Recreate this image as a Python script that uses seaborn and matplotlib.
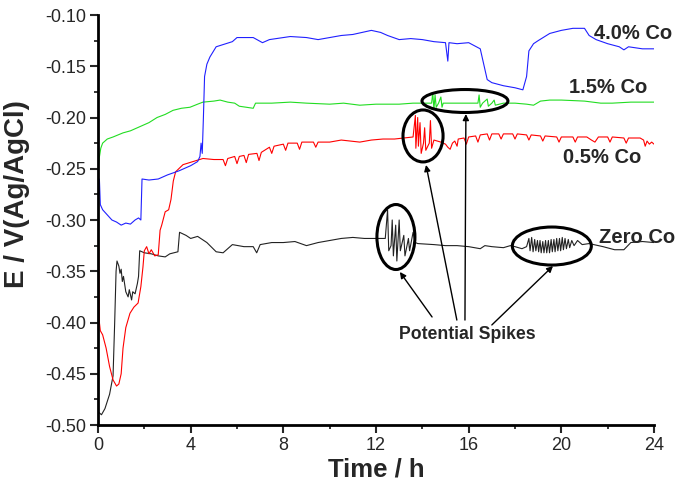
import pandas as pd
import matplotlib.pyplot as plt
import seaborn as sns
import matplotlib.ticker as plticker
from matplotlib.patches import Ellipse

# open circuit potential vs time
zero_t = [0.05, 0.15, 0.3, 0.5, 0.65, 0.72, 0.78, 0.82, 0.9, 0.95, 1.0, 1.05, 1.1, 1.2, 1.3, 1.35, 1.45, 1.5,
          1.6, 1.7, 1.75, 1.8, 2.0, 2.3, 2.6, 2.9, 3.1, 3.45, 3.52, 3.8, 4.0, 4.3, 4.7, 5.1, 5.4, 5.8, 6.3, 6.7,
          6.85, 7.0, 7.5, 8.0, 8.5, 9.0, 9.5, 10.0, 10.5, 11.0, 11.5, 12.0, 12.4,
          12.5, 12.55, 12.65, 12.7, 12.75, 12.85, 12.9, 13.0, 13.05, 13.2, 13.25, 13.4, 13.45, 13.6, 13.7,
          13.8, 14.5, 15.0, 15.5, 16.0, 16.5, 16.7, 17.0, 17.5, 17.8, 18.0, 18.3, 18.5,
          18.6, 18.65, 18.72, 18.78, 18.85, 18.9, 18.97, 19.02, 19.08, 19.13, 19.2, 19.25, 19.32, 19.37,
          19.44, 19.49, 19.56, 19.61, 19.68, 19.73, 19.8, 19.85, 19.92, 19.97, 20.04, 20.09, 20.16, 20.22,
          20.3, 20.36, 20.45, 20.55, 20.7, 20.9, 21.2, 21.8, 22.3, 22.7, 23.0, 23.5, 24.0]
zero_e = [-0.488, -0.490, -0.484, -0.470, -0.452, -0.400, -0.350, -0.340, -0.345, -0.352, -0.348, -0.360,
          -0.355, -0.370, -0.375, -0.368, -0.378, -0.370, -0.372, -0.362, -0.355, -0.330, -0.332, -0.333,
          -0.335, -0.336, -0.333, -0.331, -0.312, -0.315, -0.318, -0.316, -0.322, -0.331, -0.332, -0.324,
          -0.326, -0.326, -0.332, -0.324, -0.322, -0.322, -0.321, -0.325, -0.322, -0.320, -0.318, -0.317,
          -0.318, -0.318, -0.318,
          -0.290, -0.330, -0.325, -0.300, -0.335, -0.305, -0.340, -0.300, -0.330, -0.315, -0.335, -0.318,
          -0.330, -0.312, -0.322,
          -0.323, -0.324, -0.325, -0.325, -0.326, -0.328, -0.325, -0.326, -0.327, -0.325, -0.326, -0.328, -0.326,
          -0.318, -0.330, -0.317, -0.331, -0.319, -0.330, -0.320, -0.331, -0.320, -0.332, -0.321, -0.332,
          -0.320, -0.332, -0.320, -0.332, -0.319, -0.331, -0.319, -0.331, -0.318, -0.330, -0.318, -0.330,
          -0.317, -0.329, -0.318, -0.328, -0.319, -0.327, -0.320, -0.325, -0.320, -0.324, -0.323, -0.326,
          -0.329, -0.329, -0.322, -0.321, -0.322]

red_t = [0.0, 0.03, 0.06, 0.1, 0.2, 0.35, 0.5, 0.65, 0.8, 0.9, 1.0, 1.08, 1.2, 1.38, 1.55, 1.73, 1.85, 1.94,
         2.0, 2.1, 2.2, 2.3, 2.45, 2.6, 2.68, 2.75, 2.9, 3.05, 3.15, 3.25, 3.35, 3.67, 4.1, 4.53, 5.0, 5.4,
         5.5, 5.6, 5.9, 6.0, 6.1, 6.3, 6.4, 6.5, 6.86, 6.95, 7.05, 7.4, 7.5, 7.6, 8.0, 8.1, 8.2, 8.6, 8.7,
         8.8, 9.3, 9.4, 9.5, 10.0, 10.5, 10.9, 11.3, 11.8, 12.3, 12.8, 13.2, 13.6,
         13.7, 13.72, 13.8, 13.83, 13.9, 13.95, 14.05, 14.1, 14.15, 14.3, 14.35, 14.4,
         14.5, 14.8, 15.0, 15.1, 15.2, 15.3, 15.4, 15.5, 15.55, 15.8, 15.9, 16.0, 16.3, 16.4, 16.5, 16.8,
         16.9, 17.0, 17.3, 17.4, 17.5, 17.9, 18.0, 18.1, 18.5, 18.6, 18.7, 19.1, 19.2, 19.3, 19.8, 19.9,
         20.0, 20.5, 20.6, 20.7, 21.1, 21.3, 21.45, 21.6, 22.0, 22.1, 22.2, 22.7, 22.8, 22.9, 23.4, 23.55,
         23.62, 23.7, 23.8, 23.9, 24.0]
red_e = [-0.280, -0.330, -0.400, -0.408, -0.412, -0.425, -0.443, -0.456, -0.462, -0.460, -0.450, -0.425,
         -0.405, -0.391, -0.385, -0.381, -0.365, -0.346, -0.330, -0.326, -0.333, -0.329, -0.335, -0.334,
         -0.310, -0.305, -0.292, -0.290, -0.280, -0.262, -0.253, -0.246, -0.243, -0.240, -0.241, -0.241,
         -0.247, -0.240, -0.238, -0.245, -0.238, -0.237, -0.244, -0.236, -0.235, -0.242, -0.234, -0.229,
         -0.235, -0.228, -0.226, -0.232, -0.225, -0.225, -0.231, -0.224, -0.224, -0.229, -0.224, -0.224,
         -0.222, -0.223, -0.224, -0.222, -0.221, -0.221, -0.220, -0.219,
         -0.198, -0.230, -0.200, -0.228, -0.205, -0.235, -0.225, -0.210, -0.232, -0.225, -0.203, -0.230,
         -0.222, -0.224, -0.226, -0.229, -0.231, -0.225, -0.223, -0.228, -0.221, -0.220, -0.226, -0.219,
         -0.218, -0.224, -0.217, -0.216, -0.222, -0.216, -0.216, -0.221, -0.216, -0.216, -0.221, -0.216,
         -0.217, -0.222, -0.217, -0.218, -0.223, -0.218, -0.219, -0.224, -0.219, -0.219, -0.224, -0.219,
         -0.219, -0.222, -0.224, -0.219, -0.219, -0.224, -0.219, -0.220, -0.225, -0.220, -0.220, -0.222,
         -0.228, -0.223, -0.226, -0.224, -0.226]

green_t = [0.0, 0.05, 0.12, 0.2, 0.4, 0.65, 1.08, 1.4, 1.8, 2.2, 2.55, 2.9, 3.24, 3.6, 3.97, 4.3, 4.53, 5.0,
           5.27, 5.6, 5.9, 6.1, 6.4, 6.7, 6.8, 7.0, 7.5, 8.3, 9.0, 10.0, 10.6, 11.3, 12.0, 13.0, 13.6, 14.0,
           14.4, 14.45, 14.5, 14.55, 14.6, 14.7, 14.8, 14.85, 14.9, 15.5, 16.0, 16.4, 16.45, 16.5, 16.6,
           16.8, 16.85, 17.0, 17.1, 17.15, 17.5, 18.0, 18.5, 18.8, 19.1, 19.5, 20.0, 21.0, 21.7, 22.2,
           23.0, 24.0]
green_e = [-0.250, -0.240, -0.230, -0.225, -0.221, -0.219, -0.215, -0.213, -0.209, -0.205, -0.200, -0.197,
           -0.193, -0.191, -0.190, -0.187, -0.185, -0.184, -0.183, -0.185, -0.186, -0.189, -0.190, -0.191,
           -0.186, -0.186, -0.186, -0.185, -0.186, -0.187, -0.186, -0.188, -0.187, -0.187, -0.186, -0.186,
           -0.186, -0.176, -0.192, -0.178, -0.190, -0.186, -0.180, -0.190, -0.186, -0.186, -0.186, -0.186,
           -0.178, -0.190, -0.186, -0.182, -0.189, -0.186, -0.183, -0.188, -0.186, -0.186, -0.187, -0.188,
           -0.184, -0.183, -0.183, -0.184, -0.186, -0.186, -0.185, -0.185]

blue_t = [0.0, 0.03, 0.06, 0.1, 0.2, 0.4, 0.6, 0.8, 1.0, 1.2, 1.4, 1.6, 1.75, 1.85, 1.9, 2.2, 2.6, 3.0, 3.5,
          4.0, 4.3, 4.4, 4.45, 4.5, 4.55, 4.6, 4.7, 4.83, 5.1, 5.8, 6.0, 6.3, 6.7, 7.1, 7.4, 8.3, 9.0, 9.5,
          10.0, 10.5, 11.0, 11.8, 12.2, 12.5, 13.0, 13.5, 14.0, 14.5, 15.0, 15.1, 15.15, 15.5, 16.0, 16.5,
          16.8, 17.0, 17.5, 18.0, 18.34, 18.5, 18.6, 18.8, 19.0, 19.5, 20.0, 20.5, 21.0, 21.2, 21.5, 22.0,
          22.5, 22.7, 22.9, 23.5, 24.0]
blue_e = [-0.245, -0.275, -0.260, -0.285, -0.290, -0.295, -0.300, -0.302, -0.305, -0.303, -0.304, -0.300,
          -0.298, -0.300, -0.260, -0.261, -0.260, -0.256, -0.252, -0.247, -0.243, -0.238, -0.225, -0.235,
          -0.200, -0.160, -0.148, -0.141, -0.131, -0.126, -0.122, -0.122, -0.122, -0.127, -0.124, -0.121,
          -0.122, -0.124, -0.122, -0.120, -0.119, -0.115, -0.117, -0.120, -0.124, -0.123, -0.124, -0.126,
          -0.127, -0.145, -0.127, -0.128, -0.127, -0.133, -0.163, -0.166, -0.169, -0.171, -0.173, -0.160,
          -0.135, -0.128, -0.125, -0.118, -0.115, -0.113, -0.113, -0.120, -0.124, -0.128, -0.131, -0.134,
          -0.131, -0.133, -0.133]

series = ["Zero Co", "0.5% Co", "1.5% Co", "4.0% Co"]
colors = ["#222222", "#ff0000", "#22dd22", "#2020ff"]

df = pd.concat([
    pd.DataFrame({"t": zero_t, "E": zero_e, "s": series[0]}),
    pd.DataFrame({"t": red_t, "E": red_e, "s": series[1]}),
    pd.DataFrame({"t": green_t, "E": green_e, "s": series[2]}),
    pd.DataFrame({"t": blue_t, "E": blue_e, "s": series[3]}),
])

sns.set_style("ticks")
plt.rcParams["font.family"] = ["Liberation Sans", "DejaVu Sans"]

fig = plt.figure(figsize=(6.78, 4.92), dpi=100)
ax = fig.add_axes([98 / 678, 1 - 425 / 492, 556 / 678, 410 / 492])

sns.lineplot(data=df, x="t", y="E", hue="s", palette=dict(zip(series, colors)),
             estimator=None, sort=False, legend=False, linewidth=0.8, ax=ax)

ax.set_xlim(0, 24)
ax.set_ylim(-0.50, -0.10)
ax.xaxis.set_major_locator(plticker.MultipleLocator(4))
ax.xaxis.set_minor_locator(plticker.MultipleLocator(2))
ax.yaxis.set_major_locator(plticker.MultipleLocator(0.05))
ax.yaxis.set_minor_locator(plticker.MultipleLocator(0.025))
ax.yaxis.set_major_formatter(plticker.FormatStrFormatter("%.2f"))
ax.tick_params(which="major", direction="out", length=5.5, width=1.5, labelsize=13, pad=3)
ax.tick_params(which="minor", direction="out", length=3, width=1.3)
sns.despine(ax=ax)
for side in ["left", "bottom"]:
    ax.spines[side].set_linewidth(2.0)
    ax.spines[side].set_color("black")

ax.set_xlabel("Time / h", fontsize=18.5, fontweight="bold", labelpad=3)
ax.set_ylabel("E / V(Ag/AgCl)", fontsize=20, fontweight="bold")
ax.yaxis.set_label_coords(-0.122, 0.563)

# series labels
label_pos = {"4.0% Co": (23.1, -0.118), "1.5% Co": (22.0, -0.171),
             "0.5% Co": (21.75, -0.2395), "Zero Co": (23.26, -0.3166)}
for name, (x, y) in label_pos.items():
    ax.text(x, y, name, fontsize=14.5, fontweight="bold", ha="center", va="center", clip_on=False)

# spike ellipses
for (cx, cy, w, h) in [(12.86, -0.3166, 1.64, 0.0634), (19.59, -0.3254, 3.41, 0.0371),
                       (14.03, -0.218, 1.73, 0.0507), (15.84, -0.1839, 3.71, 0.0224)]:
    ax.add_patch(Ellipse((cx, cy), w, h, fill=False, edgecolor="black", linewidth=2.2, zorder=5))

ax.text(15.93, -0.412, "Potential Spikes", fontsize=12.7, fontweight="bold", ha="center", va="center")
for tail, head in [((14.42, -0.3946), (13.03, -0.3507)), ((15.49, -0.3976), (14.16, -0.2463)),
                   ((15.84, -0.3976), (15.88, -0.1966)), ((17.0, -0.4024), (19.64, -0.3449))]:
    ax.annotate("", xy=head, xytext=tail,
                arrowprops=dict(arrowstyle="-|>", color="black", lw=1.0, mutation_scale=9,
                                shrinkA=0, shrinkB=0))

fig.savefig("out.png", dpi=100)
